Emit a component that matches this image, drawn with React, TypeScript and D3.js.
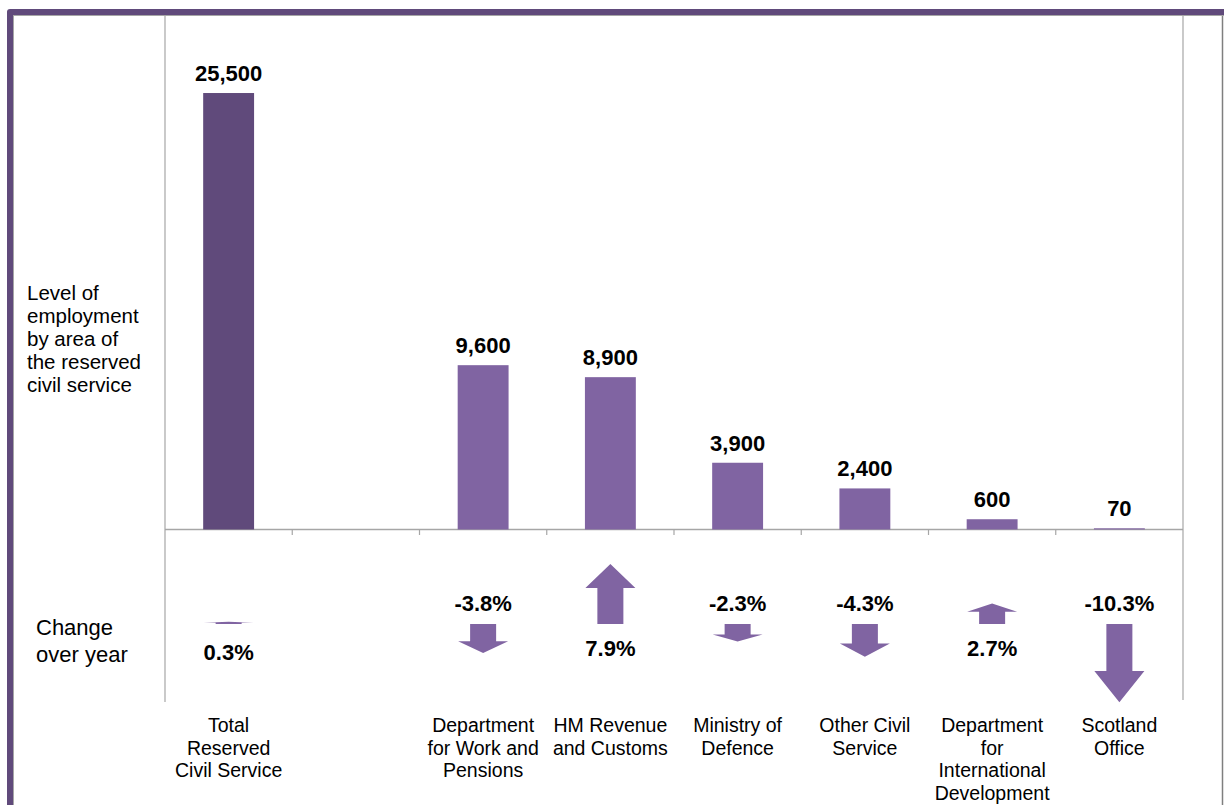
import React from "react";
import * as d3 from "d3";

const categories = [
  "Total\nReserved\nCivil Service",
  "",
  "Department\nfor Work and\nPensions",
  "HM Revenue\nand Customs",
  "Ministry of\nDefence",
  "Other Civil\nService",
  "Department\nfor\nInternational\nDevelopment",
  "Scotland\nOffice",
];
const levels: (number | null)[] = [25500, null, 9600, 8900, 3900, 2400, 600, 70];
const changes: (number | null)[] = [0.3, null, -3.8, 7.9, -2.3, -4.3, 2.7, -10.3];
const levelTitle = ["Level of", "employment", "by area of", "the reserved", "civil service"];
const changeTitle = ["Change", "over year"];

const DARK = "#604A7B";
const PURPLE = "#8064A2";
const GRID = "#A6A6A6";
const FONT = "'Liberation Sans', Arial, sans-serif";

export default function App() {
  const left = 165;
  const right = 1183;
  const baseY = 529.5;
  const arrowZero = 624;

  const x = d3
    .scaleBand<number>()
    .domain(d3.range(categories.length))
    .range([left, right])
    .paddingInner(0)
    .paddingOuter(0);
  const bw = x.bandwidth();
  const barW = bw * 0.4;

  const y = d3.scaleLinear().domain([0, 30000]).range([baseY, baseY - 513.5]);
  const c = d3.scaleLinear().domain([-12, 12]).range([arrowZero + 12 * 7.6, arrowZero - 12 * 7.6]);
  const fmt = d3.format(",");

  const arrowPath = (cx: number, v: number) => {
    const y0 = c(0);
    const y1 = c(v);
    const len = Math.abs(y1 - y0);
    const dir = y1 > y0 ? 1 : -1;
    const head = len * 0.4;
    const sw = 13;
    const hw = 25;
    const yh = y0 + dir * (len - head);
    const p = d3.path();
    p.moveTo(cx - sw, y0);
    p.lineTo(cx + sw, y0);
    p.lineTo(cx + sw, yh);
    p.lineTo(cx + hw, yh);
    p.lineTo(cx, y1);
    p.lineTo(cx - hw, yh);
    p.lineTo(cx - sw, yh);
    p.closePath();
    return p.toString();
  };

  return (
    <svg
      width={1224}
      height={805}
      style={{ position: "absolute", left: 0, top: 0, background: "#fff", fontFamily: FONT }}
    >
      {/* frame */}
      <rect x={0} y={0} width={1224} height={805} fill="#fff" />
      <line x1={1222.5} y1={15} x2={1222.5} y2={805} stroke="#7F7F7F" strokeWidth={1.5} />
      <line x1={13} y1={15.5} x2={1224} y2={15.5} stroke={GRID} strokeWidth={1} />
      <line x1={13.5} y1={15} x2={13.5} y2={805} stroke={GRID} strokeWidth={1} />
      <path d="M7,805 L7,12 Q7,9 10,9 L1224,9 L1224,15 L13,15 L13,805 Z" fill={DARK} />

      {/* plot grid */}
      <line x1={left} y1={15} x2={left} y2={702} stroke={GRID} strokeWidth={1.2} />
      <line x1={right} y1={15} x2={right} y2={700} stroke={GRID} strokeWidth={1.2} />
      <line x1={left} y1={baseY} x2={right} y2={baseY} stroke={GRID} strokeWidth={1.5} />
      {d3.range(1, categories.length).map((i) => (
        <line
          key={"t" + i}
          x1={x(i)!}
          x2={x(i)!}
          y1={baseY}
          y2={baseY + 5.5}
          stroke={GRID}
          strokeWidth={1.2}
        />
      ))}

      {/* bars */}
      {levels.map((v, i) =>
        v == null ? null : (
          <g key={"b" + i}>
            <rect
              x={x(i)! + (bw - barW) / 2}
              y={y(v)}
              width={barW}
              height={Math.max(baseY - y(v), 1.2)}
              fill={i === 0 ? DARK : PURPLE}
            />
            <text
              x={x(i)! + bw / 2}
              y={Math.min(y(v), baseY - 1.2) - 12}
              textAnchor="middle"
              fontSize={22}
              fontWeight="bold"
              fill="#000"
            >
              {fmt(v)}
            </text>
          </g>
        )
      )}

      {/* arrows */}
      {changes.map((v, i) => {
        if (v == null) return null;
        const cx = x(i)! + bw / 2;
        const up = v > 0;
        return (
          <g key={"a" + i}>
            <path d={arrowPath(cx, v)} fill={PURPLE} />
            <text
              x={cx}
              y={up ? (Math.abs(v) < 1 ? 660 : 656) : 611}
              textAnchor="middle"
              fontSize={22}
              fontWeight="bold"
              fill="#000"
            >
              {(v > 0 ? "" : "") + v.toFixed(1) + "%"}
            </text>
          </g>
        );
      })}

      {/* category labels */}
      {categories.map((cat, i) =>
        cat.split("\n").map((line, j) => (
          <text
            key={"c" + i + "-" + j}
            x={x(i)! + bw / 2}
            y={732 + j * 22.7}
            textAnchor="middle"
            fontSize={19.5}
            fill="#000"
          >
            {line}
          </text>
        ))
      )}

      {/* side titles */}
      {levelTitle.map((t, j) => (
        <text key={"l" + j} x={27} y={300 + j * 23} fontSize={20.5} fill="#000">
          {t}
        </text>
      ))}
      {changeTitle.map((t, j) => (
        <text key={"ch" + j} x={36} y={635 + j * 27} fontSize={22} fill="#000">
          {t}
        </text>
      ))}
    </svg>
  );
}
